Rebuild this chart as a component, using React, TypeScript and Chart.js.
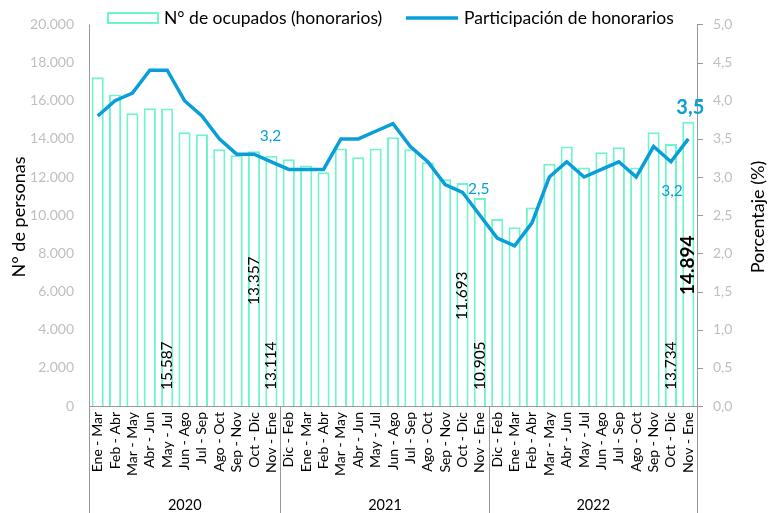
import React, { useEffect, useRef } from "react";
import { Chart, registerables } from "chart.js";

Chart.register(...registerables);

const periods2020 = ["Ene - Mar", "Feb - Abr", "Mar - May", "Abr - Jun", "May - Jul", "Jun - Ago", "Jul - Sep", "Ago - Oct", "Sep - Nov", "Oct - Dic", "Nov - Ene"];
const periods2021 = ["Dic - Feb", "Ene - Mar", "Feb - Abr", "Mar - May", "Abr - Jun", "May - Jul", "Jun - Ago", "Jul - Sep", "Ago - Oct", "Sep - Nov", "Oct - Dic", "Nov - Ene"];
const periods2022 = ["Dic - Feb", "Ene - Mar", "Feb - Abr", "Mar - May", "Abr - Jun", "May - Jul", "Jun - Ago", "Jul - Sep", "Ago - Oct", "Sep - Nov", "Oct - Dic", "Nov - Ene"];
const years = ["2020", "2021", "2022"];
const categories = [...periods2020, ...periods2021, ...periods2022];

const ocupados = [
  17230, 16330, 15340, 15600, 15587, 14350, 14240, 13450, 13140, 13357, 13114,
  12930, 12600, 12250, 13500, 13040, 13500, 14080, 13450, 12770, 11880, 11693, 10905,
  9800, 9370, 10400, 12700, 13600, 12500, 13300, 13560, 12500, 14350, 13734, 14894,
];
const participacion = [
  3.8, 4.0, 4.1, 4.4, 4.4, 4.0, 3.8, 3.5, 3.3, 3.3, 3.2,
  3.1, 3.1, 3.1, 3.5, 3.5, 3.6, 3.7, 3.4, 3.2, 2.9, 2.8, 2.5,
  2.2, 2.1, 2.4, 3.0, 3.2, 3.0, 3.1, 3.2, 3.0, 3.4, 3.2, 3.5,
];
// indices with value labels
const barLabelIdx = [4, 9, 10, 21, 22, 33, 34];
const lineLabelIdx = [10, 22, 33, 34];

const FONT = "Lato, 'Open Sans', sans-serif";
const BAR_COLOR = "#6ef5cd";
const LINE_COLOR = "#0a9ed8";

const fmtThousands = (v: number) => Math.round(v).toString().replace(/\B(?=(\d{3})+(?!\d))/g, ".");
const fmtDec = (v: number) => v.toFixed(1).replace(".", ",");

const overlay = {
  id: "overlay",
  afterDraw(chart: any) {
    const ctx = chart.ctx;
    const area = chart.chartArea;
    const x = chart.scales.x;
    const yR = chart.scales.y1;
    ctx.save();

    // legend
    ctx.strokeStyle = BAR_COLOR;
    ctx.lineWidth = 2;
    ctx.fillStyle = "#fff";
    ctx.fillRect(108, 13, 50, 10);
    ctx.strokeRect(108, 13, 50, 10);
    ctx.fillStyle = "#000";
    ctx.font = `17.5px ${FONT}`;
    ctx.textBaseline = "middle";
    ctx.textAlign = "left";
    ctx.fillText("N° de ocupados (honorarios)", 164, 18);
    ctx.strokeStyle = LINE_COLOR;
    ctx.lineWidth = 3.5;
    ctx.beginPath();
    ctx.moveTo(406, 18);
    ctx.lineTo(458, 18);
    ctx.stroke();
    ctx.fillText("Participación de honorarios", 464, 18);

    // axis titles
    ctx.font = `18px ${FONT}`;
    ctx.textAlign = "center";
    ctx.save();
    ctx.translate(19, 217);
    ctx.rotate(-Math.PI / 2);
    ctx.fillText("N° de personas", 0, 0);
    ctx.restore();
    ctx.save();
    ctx.translate(758, 217);
    ctx.rotate(-Math.PI / 2);
    ctx.fillText("Porcentaje (%)", 0, 0);
    ctx.restore();

    // axis lines
    ctx.strokeStyle = "#999";
    ctx.lineWidth = 1;
    ctx.beginPath();
    ctx.moveTo(area.left + 0.5, area.top);
    ctx.lineTo(area.left + 0.5, 513);
    ctx.moveTo(area.right + 0.5, area.top);
    ctx.lineTo(area.right + 0.5, 513);
    ctx.moveTo(area.left, area.bottom + 0.5);
    ctx.lineTo(area.right, area.bottom + 0.5);
    // right ticks
    for (let v = 0; v <= 5.0001; v += 0.5) {
      const py = Math.round(yR.getPixelForValue(v)) + 0.5;
      ctx.moveTo(area.right, py);
      ctx.lineTo(area.right + 6, py);
    }
    // group separators
    const step = (area.right - area.left) / categories.length;
    const b1 = Math.round(area.left + step * periods2020.length) + 0.5;
    const b2 = Math.round(area.left + step * (periods2020.length + periods2021.length)) + 0.5;
    ctx.moveTo(b1, area.bottom);
    ctx.lineTo(b1, 513);
    ctx.moveTo(b2, area.bottom);
    ctx.lineTo(b2, 513);
    ctx.stroke();

    // year labels
    ctx.fillStyle = "#000";
    ctx.font = `14.5px ${FONT}`;
    ctx.textAlign = "center";
    const bounds = [area.left, b1, b2, area.right];
    years.forEach((yr, i) => {
      ctx.fillText(yr, (bounds[i] + bounds[i + 1]) / 2, 505);
    });

    // bar value labels (vertical)
    const barBottoms: Record<number, number> = { 4: 390, 9: 305, 10: 390, 21: 320, 22: 390, 33: 390, 34: 295 };
    barLabelIdx.forEach((i) => {
      const px = x.getPixelForValue(i);
      const bold = i === 34;
      ctx.save();
      ctx.translate(px, barBottoms[i]);
      ctx.rotate(-Math.PI / 2);
      ctx.font = bold ? `bold 19px ${FONT}` : `15.5px ${FONT}`;
      ctx.fillStyle = "#000";
      ctx.textAlign = "left";
      ctx.textBaseline = "middle";
      ctx.fillText(fmtThousands(ocupados[i]), 0, 0);
      ctx.restore();
    });

    // line labels
    ctx.fillStyle = LINE_COLOR;
    ctx.textBaseline = "middle";
    ctx.textAlign = "center";
    lineLabelIdx.forEach((i) => {
      const px = x.getPixelForValue(i);
      const py = yR.getPixelForValue(participacion[i]);
      if (i === 34) {
        ctx.font = `bold 20px ${FONT}`;
        ctx.fillText(fmtDec(participacion[i]), px + 2, py - 31);
      } else if (i === 33) {
        ctx.font = `15.5px ${FONT}`;
        ctx.fillText(fmtDec(participacion[i]), px + 1, py + 29);
      } else {
        ctx.font = `15.5px ${FONT}`;
        ctx.fillText(fmtDec(participacion[i]), px - 1, py - 26);
      }
    });
    ctx.restore();
  },
};

export default function App() {
  const ref = useRef<HTMLCanvasElement>(null);
  useEffect(() => {
    if (!ref.current) return;
    const chart = new Chart(ref.current, {
      type: "bar",
      data: {
        labels: categories,
        datasets: [
          {
            type: "line",
            label: "Participación de honorarios",
            data: participacion,
            yAxisID: "y1",
            borderColor: LINE_COLOR,
            borderWidth: 3.5,
            pointRadius: 0,
            tension: 0,
            order: 0,
          } as any,
          {
            type: "bar",
            label: "N° de ocupados (honorarios)",
            data: ocupados,
            yAxisID: "y",
            backgroundColor: "#ffffff",
            borderColor: BAR_COLOR,
            borderWidth: 2,
            categoryPercentage: 1,
            barPercentage: 0.7,
            order: 1,
          },
        ],
      },
      options: {
        responsive: false,
        animation: false,
        layout: { padding: { top: 24, left: 0, right: 0, bottom: 0 } },
        plugins: { legend: { display: false }, tooltip: { enabled: false } },
        scales: {
          x: {
            grid: { display: false, drawTicks: false },
            border: { display: false },
            ticks: {
              autoSkip: false,
              maxRotation: 90,
              minRotation: 90,
              padding: 6,
              color: "#000",
              font: { family: FONT, size: 14 },
            },
            afterFit: (s: any) => {
              s.height = 107;
            },
          },
          y: {
            position: "left",
            min: 0,
            max: 20000,
            grid: { display: false, drawTicks: false },
            border: { display: false },
            ticks: {
              stepSize: 2000,
              padding: 15,
              color: "#bfbfbf",
              font: { family: FONT, size: 14 },
              callback: (v: any) => fmtThousands(Number(v)),
            },
            afterFit: (s: any) => {
              s.width = 89;
            },
          },
          y1: {
            position: "right",
            min: 0,
            max: 5,
            grid: { display: false, drawTicks: false },
            border: { display: false },
            ticks: {
              stepSize: 0.5,
              padding: 16,
              color: "#bfbfbf",
              font: { family: FONT, size: 14 },
              callback: (v: any) => fmtDec(Number(v)),
            },
            afterFit: (s: any) => {
              s.width = 80;
            },
          },
        },
      },
      plugins: [overlay],
    });
    return () => chart.destroy();
  }, []);
  return (
    <div style={{ position: "absolute", left: 0, top: 0, width: 777, height: 513, background: "#fff" }}>
      <canvas ref={ref} width={777} height={513} style={{ display: "block" }} />
    </div>
  );
}
